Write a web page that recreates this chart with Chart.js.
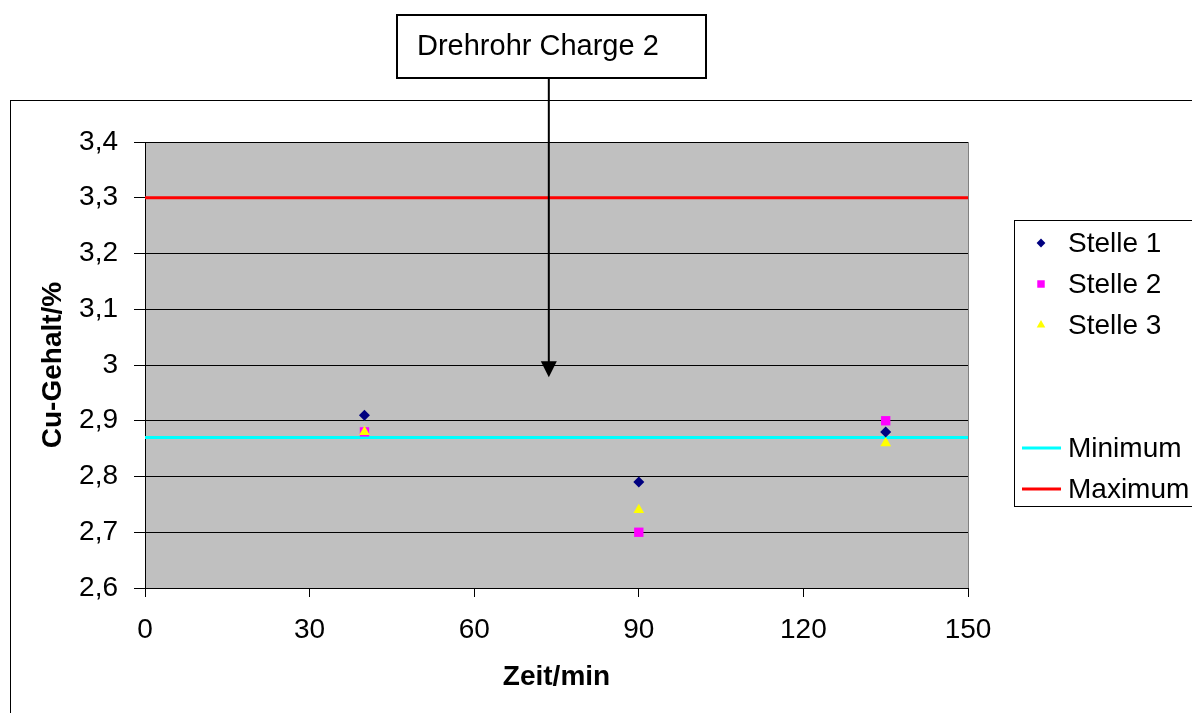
<!DOCTYPE html>
<html>
<head>
<meta charset="utf-8">
<script src="https://cdn.jsdelivr.net/npm/chart.js@4/dist/chart.umd.min.js"></script>
<style>
  html, body { margin: 0; padding: 0; background: #ffffff; }
  canvas { display: block; }
</style>
</head>
<body>
<canvas id="c" width="1192" height="713"></canvas>
<script>
// Sampling times (min) and copper content (%) at three measuring points
const zeit = [40, 90, 135];
const stelle1 = [2.91, 2.79, 2.88];
const stelle2 = [2.88, 2.70, 2.90];
const stelle3 = [2.88, 2.74, 2.86];

// Specification limits
const minimum = 2.87;
const maximum = 3.3;

// Axis ticks
const xTicks = [0, 30, 60, 90, 120, 150];
const xTickLabels = ['0', '30', '60', '90', '120', '150'];
const yTicks = [2.6, 2.7, 2.8, 2.9, 3.0, 3.1, 3.2, 3.3, 3.4];
const yTickLabels = ['2,6', '2,7', '2,8', '2,9', '3', '3,1', '3,2', '3,3', '3,4'];

// Annotation
const titleText = 'Drehrohr Charge 2';
const arrowTarget = { x: 73.6, y: 2.978 };

const FONT = '"Liberation Sans", Arial, sans-serif';

const pts = (ys) => zeit.map((x, i) => ({ x, y: ys[i] }));
const limitLine = (v) => [{ x: xTicks[0], y: v }, { x: xTicks[xTicks.length - 1], y: v }];

// lower "order" is painted later (on top)
const datasets = [
  { label: 'Stelle 1', data: pts(stelle1), pointStyle: 'rectRot', pointRadius: 5.5,
    backgroundColor: '#000080', borderColor: '#000080', borderWidth: 0, showLine: false, order: 1 },
  { label: 'Stelle 2', data: pts(stelle2), pointStyle: 'rect', pointRadius: 6.6,
    backgroundColor: '#FF00FF', borderColor: '#FF00FF', borderWidth: 0, showLine: false, order: 2 },
  { label: 'Stelle 3', data: pts(stelle3), pointStyle: 'triangle', pointRadius: 6.2,
    backgroundColor: '#FFFF00', borderColor: '#FFFF00', borderWidth: 0, showLine: false, order: 1 },
  { label: 'Minimum', data: limitLine(minimum), showLine: true, pointRadius: 0,
    borderColor: '#00FFFF', backgroundColor: '#00FFFF', borderWidth: 3, order: 3 },
  { label: 'Maximum', data: limitLine(maximum), showLine: true, pointRadius: 0,
    borderColor: '#FF0000', backgroundColor: '#FF0000', borderWidth: 3, order: 3 }
];

// Grey plot background, outer frame, right edge of the plot area
const backdrop = {
  id: 'backdrop',
  beforeDraw(chart) {
    const { ctx, chartArea: a } = chart;
    ctx.save();
    ctx.strokeStyle = '#000';
    ctx.lineWidth = 1;
    ctx.strokeRect(10.5, 100.5, 1300, 800);
    ctx.fillStyle = '#C0C0C0';
    ctx.fillRect(a.left, a.top, a.right - a.left, a.bottom - a.top);
    ctx.restore();
  },
  afterDatasetsDraw(chart) {
    const { ctx, chartArea: a } = chart;
    ctx.save();
    ctx.strokeStyle = '#808080';
    ctx.lineWidth = 1;
    ctx.beginPath();
    ctx.moveTo(Math.round(a.right) + 0.5, a.top);
    ctx.lineTo(Math.round(a.right) + 0.5, a.bottom);
    ctx.stroke();
    ctx.restore();
  }
};

// Legend box on the right
const sideLegend = {
  id: 'sideLegend',
  afterDraw(chart) {
    const { ctx } = chart;
    const rows = [243, 284, 325, 448, 489];
    ctx.save();
    ctx.fillStyle = '#fff';
    ctx.fillRect(1014.5, 220.5, 300, 286);
    ctx.strokeStyle = '#000';
    ctx.lineWidth = 1;
    ctx.strokeRect(1014.5, 220.5, 300, 286);
    ctx.font = '28px ' + FONT;
    ctx.textBaseline = 'middle';
    ctx.textAlign = 'left';
    chart.data.datasets.forEach((ds, i) => {
      const y = rows[i];
      if (ds.showLine) {
        ctx.strokeStyle = ds.borderColor;
        ctx.lineWidth = 3;
        ctx.beginPath();
        ctx.moveTo(1022, y);
        ctx.lineTo(1061, y);
        ctx.stroke();
      } else {
        ctx.fillStyle = ds.backgroundColor;
        ctx.strokeStyle = ds.borderColor;
        Chart.helpers.drawPoint(ctx, {
          pointStyle: ds.pointStyle, radius: ds.pointRadius * 0.8, borderWidth: 0, rotation: 0
        }, 1041, y);
      }
      ctx.fillStyle = '#000';
      ctx.fillText(ds.label, 1068, y + 1);
    });
    ctx.restore();
  }
};

// Title box with arrow pointing into the plot
const titleBox = {
  id: 'titleBox',
  afterDraw(chart) {
    const { ctx, scales } = chart;
    const tx = scales.x.getPixelForValue(arrowTarget.x);
    const ty = scales.y.getPixelForValue(arrowTarget.y);
    ctx.save();
    ctx.fillStyle = '#fff';
    ctx.fillRect(397, 15, 309, 63);
    ctx.strokeStyle = '#000';
    ctx.lineWidth = 2;
    ctx.strokeRect(397, 15, 309, 63);
    ctx.fillStyle = '#000';
    ctx.font = '29px ' + FONT;
    ctx.textBaseline = 'middle';
    ctx.textAlign = 'left';
    ctx.fillText(titleText, 417, 47);
    // arrow
    ctx.beginPath();
    ctx.moveTo(tx, 79);
    ctx.lineTo(tx, ty - 14);
    ctx.stroke();
    ctx.beginPath();
    ctx.moveTo(tx, ty);
    ctx.lineTo(tx - 8, ty - 16);
    ctx.lineTo(tx + 8, ty - 16);
    ctx.closePath();
    ctx.fill();
    ctx.restore();
  }
};

new Chart(document.getElementById('c'), {
  type: 'scatter',
  data: { datasets },
  plugins: [backdrop, sideLegend, titleBox],
  options: {
    responsive: false,
    animation: false,
    layout: { padding: { left: 0, top: 142, right: 224, bottom: 0 } },
    plugins: { legend: { display: false }, tooltip: { enabled: false }, title: { display: false } },
    scales: {
      x: {
        type: 'linear',
        min: xTicks[0], max: xTicks[xTicks.length - 1],
        afterBuildTicks: (s) => { s.ticks = xTicks.map(v => ({ value: v })); },
        afterFit: (s) => { s.height = 125; },
        ticks: {
          color: '#000', font: { family: FONT, size: 28 }, padding: 16, maxRotation: 0,
          callback: (v) => xTickLabels[xTicks.indexOf(v)]
        },
        grid: { drawOnChartArea: false, drawTicks: true, tickLength: 9, color: '#000' },
        border: { color: '#000', width: 1 },
        title: { display: true, text: 'Zeit/min', color: '#000',
          font: { family: FONT, size: 28, weight: 'bold' }, padding: { top: 0, bottom: 19 } }
      },
      y: {
        type: 'linear',
        min: yTicks[0], max: yTicks[yTicks.length - 1],
        afterBuildTicks: (s) => { s.ticks = yTicks.map(v => ({ value: v })); },
        afterFit: (s) => { s.width = 145; },
        ticks: {
          color: '#000', font: { family: FONT, size: 28 }, padding: 16,
          callback: (v) => yTickLabels[yTicks.findIndex(t => Math.abs(t - v) < 1e-9)]
        },
        grid: { drawOnChartArea: true, drawTicks: true, tickLength: 11, color: '#000' },
        border: { color: '#000', width: 1 },
        title: { display: true, text: 'Cu-Gehalt/%', color: '#000',
          font: { family: FONT, size: 28, weight: 'bold' }, padding: { top: 36, bottom: 0 } }
      }
    }
  }
});
</script>
</body>
</html>
